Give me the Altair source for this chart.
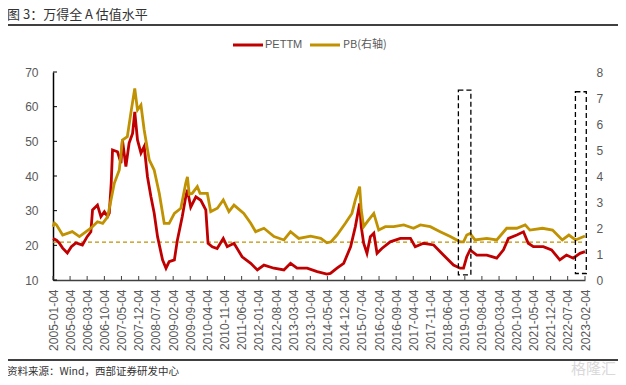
import altair as alt
import pandas as pd

# ---------------- data ----------------
pe_dates = [
    "2005-01-04", "2005-02-16", "2005-03-22", "2005-05-04", "2005-07-01", "2005-08-20",
    "2005-10-16", "2006-01-04", "2006-03-04", "2006-04-19", "2006-05-10", "2006-07-10",
    "2006-08-22", "2006-10-04", "2006-11-13", "2006-12-04", "2006-12-28", "2007-01-13",
    "2007-03-16", "2007-04-28", "2007-05-16", "2007-06-28", "2007-08-07", "2007-09-19",
    "2007-10-16", "2007-11-19", "2008-01-01", "2008-02-10", "2008-03-22", "2008-05-04",
    "2008-06-13", "2008-07-25", "2008-09-25", "2008-11-07", "2008-12-16", "2009-02-19",
    "2009-03-28", "2009-05-28", "2009-07-10", "2009-07-31", "2009-09-10", "2009-11-13",
    "2010-01-13", "2010-03-16", "2010-04-13", "2010-06-04", "2010-08-04", "2010-10-19",
    "2010-12-07", "2011-03-01", "2011-06-10", "2011-09-25", "2011-12-16", "2012-03-07",
    "2012-07-10", "2012-11-10", "2013-01-31", "2013-04-22", "2013-08-25", "2013-12-28",
    "2014-04-28", "2014-06-10", "2014-08-31", "2014-11-22", "2015-02-16", "2015-04-16",
    "2015-06-08", "2015-06-28", "2015-07-28", "2015-09-07", "2015-10-19", "2015-12-01",
    "2016-01-10", "2016-03-10", "2016-06-22", "2016-10-25", "2017-02-28", "2017-04-28",
    "2017-08-10", "2017-12-13", "2018-04-13", "2018-08-16", "2018-11-07", "2018-12-19",
    "2019-01-28", "2019-03-10", "2019-06-01", "2019-10-04", "2020-02-04", "2020-04-28",
    "2020-06-28", "2020-10-10", "2021-01-01", "2021-03-01", "2021-05-04", "2021-09-04",
    "2021-12-16", "2022-03-28", "2022-06-19", "2022-09-10", "2022-12-04", "2023-02-04",
]
pe_values = [
    22.0, 21.5, 20.7, 19.2, 17.8, 19.6,
    20.7, 20.1, 22.5, 23.9, 30.2, 31.6,
    28.3, 29.7, 28.3, 29.3, 38.0, 47.5,
    47.0, 43.7, 50.4, 42.7, 49.5, 52.3,
    58.5, 50.4, 46.6, 48.5, 39.8, 34.0,
    29.3, 22.5, 15.8, 13.4, 15.3, 15.8,
    21.5, 28.3, 34.0, 36.0, 31.0, 34.0,
    33.0, 30.2, 20.6, 19.6, 19.1, 22.0,
    19.6, 20.6, 16.7, 14.8, 12.9, 14.3,
    13.4, 12.9, 14.8, 13.4, 13.4, 12.4,
    11.7, 11.9, 13.4, 14.8, 19.6, 25.4,
    32.1, 25.4, 20.6, 17.7, 22.5, 23.5,
    17.7, 19.1, 21.0, 22.0, 22.0, 19.6,
    20.6, 20.1, 17.2, 14.3, 13.4, 13.4,
    16.7, 18.7, 17.2, 17.2, 16.3, 18.7,
    22.0, 23.0, 23.9, 20.6, 19.6, 19.6,
    18.7, 15.8, 17.2, 16.3, 17.7, 18.2,
]

pb_dates = [
    "2005-01-04", "2005-01-22", "2005-02-16", "2005-05-04", "2005-08-31", "2005-11-28",
    "2006-02-19", "2006-04-19", "2006-07-10", "2006-09-13", "2006-11-13", "2006-12-25",
    "2007-02-04", "2007-04-07", "2007-05-16", "2007-07-16", "2007-08-28", "2007-10-16",
    "2007-11-19", "2008-01-01", "2008-02-10", "2008-04-13", "2008-06-13", "2008-08-16",
    "2008-10-16", "2008-12-16", "2009-02-19", "2009-05-10", "2009-07-10", "2009-07-31",
    "2009-08-22", "2009-09-28", "2009-12-01", "2010-01-04", "2010-04-04", "2010-05-16",
    "2010-08-07", "2010-10-19", "2010-12-28", "2011-03-01", "2011-07-01", "2011-09-25",
    "2011-11-25", "2012-03-07", "2012-07-10", "2012-11-10", "2013-01-31", "2013-05-13",
    "2013-10-07", "2014-02-10", "2014-04-28", "2014-06-19", "2014-08-31", "2014-12-13",
    "2015-03-04", "2015-04-16", "2015-06-08", "2015-06-28", "2015-07-28", "2015-09-28",
    "2015-12-01", "2016-01-31", "2016-04-22", "2016-08-04", "2016-12-07", "2017-04-07",
    "2017-07-01", "2017-11-01", "2018-03-04", "2018-07-07", "2018-11-07", "2018-12-19",
    "2019-01-28", "2019-03-10", "2019-05-10", "2019-10-04", "2020-02-04", "2020-06-07",
    "2020-10-10", "2021-01-22", "2021-03-22", "2021-08-25", "2021-12-28", "2022-04-28",
    "2022-07-19", "2022-10-10", "2023-02-04",
]
pb_values = [
    2.05, 2.19, 2.12, 1.73, 1.86, 1.67,
    1.86, 1.99, 2.24, 2.18, 2.43, 3.08,
    3.72, 4.23, 5.38, 5.51, 6.41, 7.37,
    6.54, 6.73, 5.77, 4.62, 4.23, 3.33,
    2.18, 2.18, 2.56, 2.76, 3.72, 3.97,
    3.30, 3.33, 3.59, 3.33, 3.33, 2.63,
    2.76, 3.08, 2.63, 2.88, 2.56, 2.18,
    1.86, 1.99, 1.67, 1.54, 1.86, 1.60,
    1.69, 1.60, 1.43, 1.47, 1.73, 2.18,
    2.56, 3.08, 3.59, 2.69, 2.05, 2.31,
    2.56, 1.92, 2.05, 2.05, 2.12, 1.99,
    2.12, 2.05, 1.86, 1.67, 1.47, 1.47,
    1.73, 1.79, 1.54, 1.60, 1.54, 1.99,
    1.99, 2.12, 1.92, 1.99, 1.92, 1.54,
    1.73, 1.54, 1.69,
]

tick_labels = [
    "2005-01-04", "2005-08-04", "2006-03-04", "2006-10-04", "2007-05-04", "2007-12-04",
    "2008-07-04", "2009-02-04", "2009-09-04", "2010-04-04", "2010-11-04", "2011-06-04",
    "2012-01-04", "2012-08-04", "2013-03-04", "2013-10-04", "2014-05-04", "2014-12-04",
    "2015-07-04", "2016-02-04", "2016-09-04", "2017-04-04", "2017-11-04", "2018-06-04",
    "2019-01-04", "2019-08-04", "2020-03-04", "2020-10-04", "2021-05-04", "2021-12-04",
    "2022-07-04", "2023-02-04",
]
left_ticks = [10, 20, 30, 40, 50, 60, 70]
right_ticks = [0, 1, 2, 3, 4, 5, 6, 7, 8]
ref_level = [20.9]
box_start = ["2018-10-16", "2022-10-08"]
box_end = ["2019-03-20", "2023-02-20"]
box_top = [7.3, 7.24]
box_bottom = [0.2, 0.25]

title_text = ["图 3：万得全 A 估值水平"]
source_text = ["资料来源：Wind，西部证券研发中心"]
legend_names = ["PETTM", "PB(右轴)"]

# ---------------- styling ----------------
RED = "#C00000"
GOLD = "#C09100"
GRAY = "#595959"
W, H = 532, 208
FONT = "Liberation Sans"
CJK = "Noto Sans CJK SC"


def dt(s):
    y, m, d = (int(p) for p in s.split("-"))
    return alt.DateTime(year=y, month=m, date=d)


x_scale = alt.Scale(domain=[dt(tick_labels[0]), dt(tick_labels[-1])])
x_axis = alt.Axis(
    values=[dt(s) for s in tick_labels], format="%Y-%m-%d", labelAngle=270,
    labelOverlap=False, labelFlush=False, tickSize=0, domainColor="#404040",
    domainWidth=1.5, labelPadding=9, labelColor=GRAY, labelFontSize=12,
    labelFont=FONT, title=None, grid=False,
)
left_axis = alt.Axis(orient="left", values=left_ticks, tickSize=0, domainColor="black",
                     domainWidth=1.5, labelPadding=15, labelColor=GRAY, labelFontSize=12,
                     labelFont=FONT, title=None, grid=False, labelOverlap=False)
right_axis = alt.Axis(orient="right", values=right_ticks, tickSize=0, domain=False,
                      labelPadding=11, labelColor=GRAY, labelFontSize=12,
                      labelFont=FONT, title=None, grid=False, labelOverlap=False)
left_scale = alt.Scale(domain=[10, 70], nice=False, zero=False)
right_scale = alt.Scale(domain=[0, 8], nice=False, zero=False)

pe_df = pd.DataFrame({"date": pe_dates, "pe": pe_values})
pb_df = pd.DataFrame({"date": pb_dates, "pb": pb_values})
tick_df = pd.DataFrame({"date": tick_labels})
lt_df = pd.DataFrame({"v": left_ticks})
ref_df = pd.DataFrame({"v": ref_level})
box_df = pd.DataFrame({"start": box_start, "end": box_end, "top": box_top, "bottom": box_bottom})

ref_line = alt.Chart(ref_df).mark_rule(color=GOLD, strokeDash=[4, 3], strokeWidth=1.2).encode(
    y=alt.Y("v:Q", scale=left_scale, axis=left_axis), x=alt.value(0), x2=alt.value(W)
)

pe_line = alt.Chart(pe_df).mark_line(color=RED, strokeWidth=2.8).encode(
    x=alt.X("date:T", scale=x_scale, axis=x_axis),
    y=alt.Y("pe:Q", scale=left_scale, axis=left_axis),
)

left_tick_marks = alt.Chart(lt_df).mark_rule(color="black", strokeWidth=1).encode(
    y=alt.Y("v:Q", scale=left_scale, axis=left_axis), x=alt.value(0), x2=alt.value(4)
)
x_tick_marks = alt.Chart(tick_df).mark_rule(color="#404040", strokeWidth=1).encode(
    x=alt.X("date:T", scale=x_scale, axis=x_axis), y=alt.value(H), y2=alt.value(H - 4)
)


def text_layer(txt, x, y, size, color, font, align="left"):
    return alt.Chart(pd.DataFrame({"t": txt})).mark_text(
        align=align, baseline="middle", fontSize=size, color=color, font=font
    ).encode(x=alt.value(x), y=alt.value(y), text="t:N")


def hrule(x1, x2, y, color, width):
    return alt.Chart(pd.DataFrame({"a": [0]})).mark_rule(color=color, strokeWidth=width).encode(
        x=alt.value(x1), x2=alt.value(x2), y=alt.value(y)
    )


title = text_layer(title_text, -46, -57, 13, "#333333", CJK)
title_rule = hrule(-46, 565, -47, "black", 1.5)
source = text_layer(source_text, -46, 300, 10.5, "#333333", CJK)
source_rule = hrule(-46, 565, 288, "black", 1.5)
leg_red = hrule(180, 210, -27, RED, 3)
leg_red_t = text_layer([legend_names[0]], 212, -27, 11, GRAY, FONT)
leg_gold = hrule(257, 287, -27, GOLD, 3)
leg_gold_t = text_layer([legend_names[1]], 290, -27, 11, GRAY, CJK)
watermark = text_layer(["格隆汇"], 518, 297, 15, "#d9d9d9", CJK)

left_group = alt.layer(
    ref_line, pe_line, left_tick_marks, x_tick_marks,
    title, title_rule, source, source_rule, leg_red, leg_red_t, leg_gold, leg_gold_t, watermark,
)

pb_line = alt.Chart(pb_df).mark_line(color=GOLD, strokeWidth=2.8).encode(
    x=alt.X("date:T", scale=x_scale, axis=x_axis),
    y=alt.Y("pb:Q", scale=right_scale, axis=right_axis),
)
boxes = alt.Chart(box_df).mark_rect(fill="white", fillOpacity=0, stroke="black",
                                    strokeDash=[5, 3], strokeWidth=1.3).encode(
    x=alt.X("start:T", scale=x_scale, axis=x_axis), x2="end:T",
    y=alt.Y("top:Q", scale=right_scale, axis=right_axis), y2="bottom:Q"
)
right_group = alt.layer(pb_line, boxes)

chart = alt.layer(left_group, right_group).resolve_scale(y="independent").properties(
    width=W, height=H,
    autosize=alt.AutoSizeParams(type="none"),
    padding={"left": 45, "top": 64, "right": 33, "bottom": 97},
    background="white",
).configure_view(stroke=None).configure_axis(labelOverlap=False, labelFlush=False)

chart.save("out.html", embed_options={"renderer": "svg", "actions": False})
